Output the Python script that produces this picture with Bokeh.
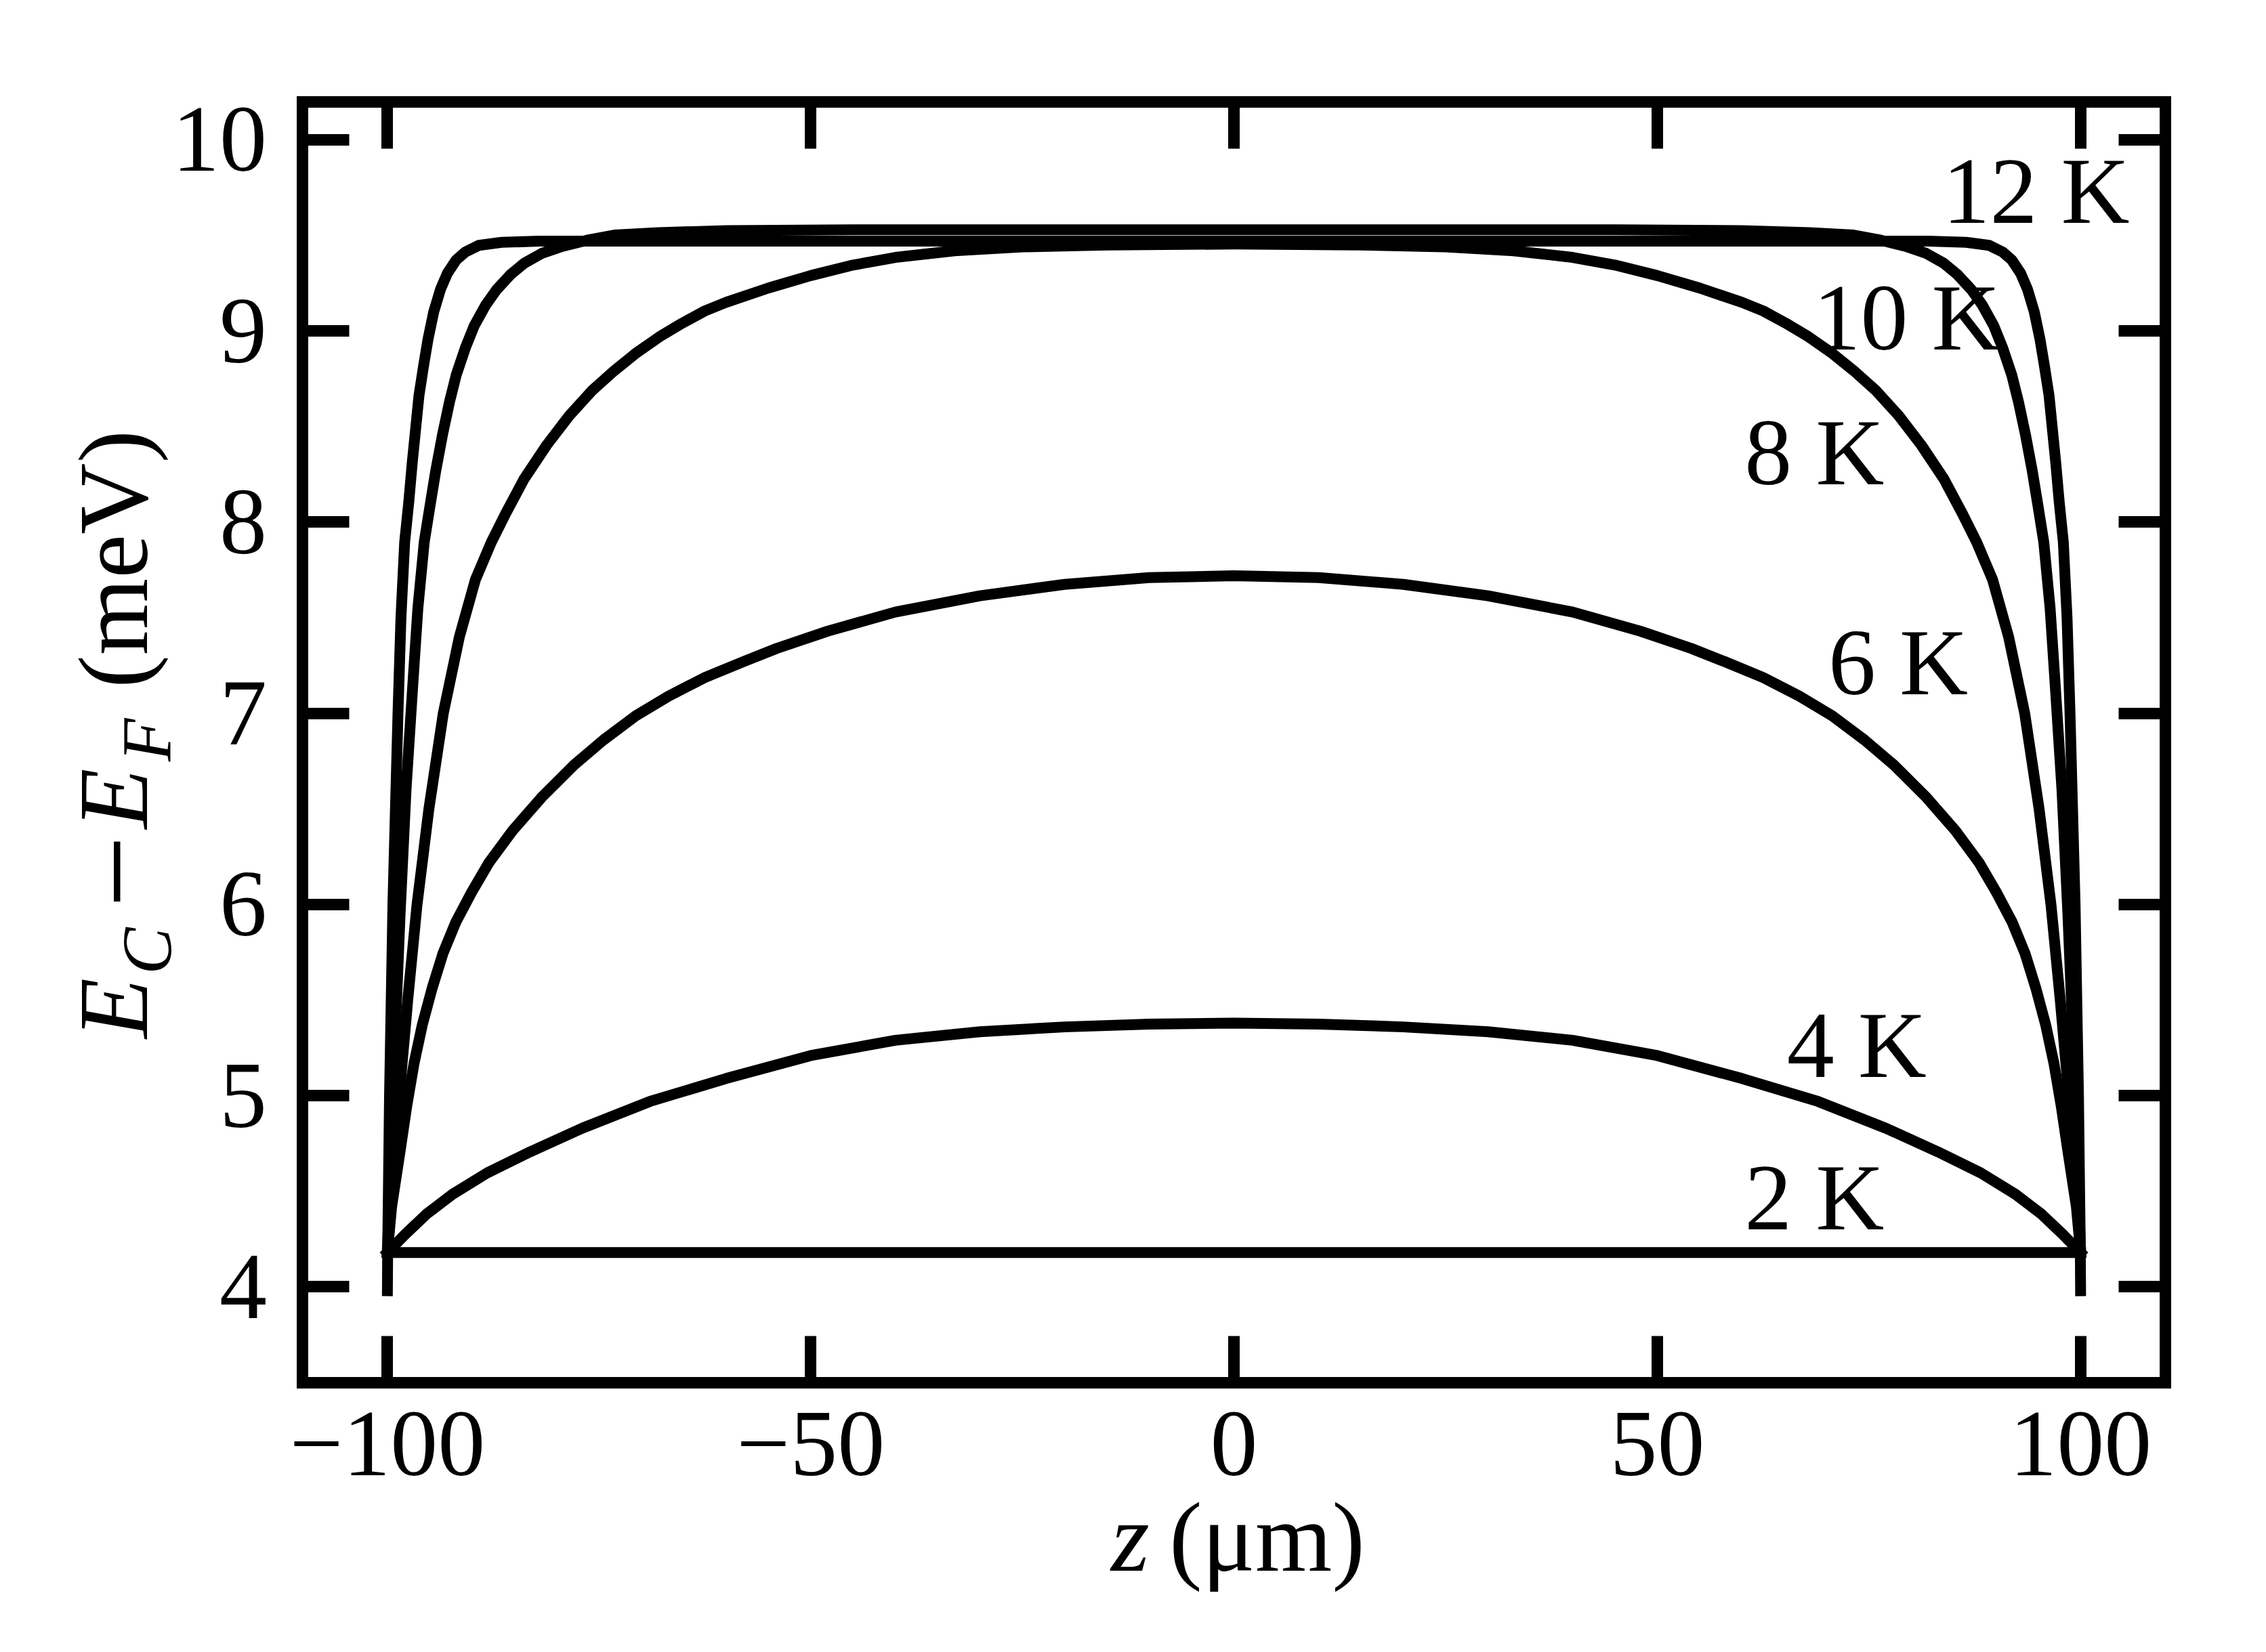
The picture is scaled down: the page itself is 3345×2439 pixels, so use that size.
from bokeh.plotting import figure
from bokeh.models import Range1d, LinearAxis, FixedTicker, Label
from bokeh.core.properties import value
from bokeh.embed import file_html
from bokeh.resources import INLINE

# ---------------- data ----------------
z_2K = [-100.0, 0.0, 100.0]
E_2K = [4.18, 4.18, 4.18]

z_4K = [-100.0, -99.0, -97.9, -95.4, -92.3, -88.22, -83.12, -77.0, -69.0, -60.0, -50.0, -40.0, -30.0, -20.0, -10.0,
        0.0,
        10.0, 20.0, 30.0, 40.0, 50.0, 60.0, 69.0, 77.0, 83.12, 88.22, 92.3, 95.4, 97.9, 99.0, 100.0]
E_4K = [4.18, 4.225, 4.275, 4.38, 4.485, 4.596, 4.707, 4.83, 4.97, 5.09, 5.21, 5.29, 5.335, 5.36, 5.375,
        5.38,
        5.375, 5.36, 5.335, 5.29, 5.21, 5.09, 4.97, 4.83, 4.707, 4.596, 4.485, 4.38, 4.275, 4.225, 4.18]

z_6K = [-100.0, -99.5, -98.5, -97.7, -96.85, -95.88, -94.7, -93.45, -91.9, -90.06, -88.0, -85.21, -81.8, -77.95,
        -74.5, -70.67, -66.8, -62.52, -58.0, -54.0, -48.0, -40.0, -30.0, -20.0, -10.0,
        0.0,
        10.0, 20.0, 30.0, 40.0, 48.0, 54.0, 58.0, 62.52, 66.8, 70.67, 74.5, 77.95, 81.8, 85.21, 88.0, 90.06, 91.9,
        93.45, 94.7, 95.88, 96.85, 97.7, 98.5, 99.5, 100.0]
E_6K = [4.18, 4.42, 4.71, 4.95, 5.17, 5.37, 5.565, 5.743, 5.91, 6.064, 6.22, 6.387, 6.56, 6.73,
        6.86, 6.987, 7.09, 7.187, 7.27, 7.34, 7.43, 7.53, 7.615, 7.675, 7.71,
        7.72,
        7.71, 7.675, 7.615, 7.53, 7.43, 7.34, 7.27, 7.187, 7.09, 6.987, 6.86, 6.73, 6.56, 6.387, 6.22, 6.064, 5.91,
        5.743, 5.565, 5.37, 5.17, 4.95, 4.71, 4.42, 4.18]

z_8K = [-100.0, -99.3, -98.5, -97.6, -96.5, -95.1, -93.4, -91.5, -89.6, -87.73, -85.99, -83.86, -81.19, -78.53,
        -75.86, -73.19, -70.52, -67.86, -65.18, -62.52, -60.0, -55.0, -50.0, -45.0, -40.0, -33.0, -25.0, -15.0,
        0.0,
        15.0, 25.0, 33.0, 40.0, 45.0, 50.0, 55.0, 60.0, 62.52, 65.18, 67.86, 70.52, 73.19, 75.86, 78.53, 81.19,
        83.86, 85.99, 87.73, 89.6, 91.5, 93.4, 95.1, 96.5, 97.6, 98.5, 99.3, 100.0]
E_8K = [4.18, 4.6, 5.05, 5.5, 6.0, 6.5, 7.0, 7.4, 7.7, 7.895, 8.049, 8.226, 8.403, 8.557,
        8.687, 8.793, 8.888, 8.970, 9.041, 9.105, 9.15, 9.225, 9.29, 9.345, 9.385, 9.42, 9.44, 9.45,
        9.455,
        9.45, 9.44, 9.42, 9.385, 9.345, 9.29, 9.225, 9.15, 9.105, 9.041, 8.970, 8.888, 8.793, 8.687, 8.557, 8.403,
        8.226, 8.049, 7.895, 7.7, 7.4, 7.0, 6.5, 6.0, 5.5, 5.05, 4.6, 4.18]

z_10K = [-100.0, -99.6, -99.1, -98.5, -97.8, -97.0, -96.4, -95.65, -94.93, -94.27, -93.47, -92.67, -91.87,
         -90.8, -89.73, -88.39, -87.07, -85.46, -83.86, -81.73, -79.33, -76.12, -73.19, -68.0, -60.0, -45.0, -25.0,
         0.0,
         25.0, 45.0, 60.0, 68.0, 73.19, 76.12, 79.33, 81.73, 83.86, 85.46, 87.07, 88.39, 89.73, 90.8,
         91.87, 92.67, 93.47, 94.27, 94.93, 95.65, 96.4, 97.0, 97.8, 98.5, 99.1, 99.6, 100.0]
E_10K = [4.18, 4.7, 5.3, 5.95, 6.6, 7.15, 7.55, 7.896, 8.096, 8.274, 8.462, 8.628, 8.770,
         8.911, 9.029, 9.136, 9.218, 9.295, 9.354, 9.407, 9.443, 9.478, 9.502, 9.515, 9.525, 9.53, 9.53,
         9.53,
         9.53, 9.53, 9.525, 9.515, 9.502, 9.478, 9.443, 9.407, 9.354, 9.295, 9.218, 9.136, 9.029, 8.911,
         8.770, 8.628, 8.462, 8.274, 8.096, 7.896, 7.55, 7.15, 6.6, 5.95, 5.3, 4.7, 4.18]

z_12K = [-100.0, -99.97, -99.75, -99.35, -98.75, -98.4, -97.96, -97.47, -97.07, -96.67, -96.27, -95.73, -95.2,
         -94.53, -93.73, -92.93, -91.87, -90.8, -89.2, -86.5, -82.0, -70.0, -50.0, -25.0,
         0.0,
         25.0, 50.0, 70.0, 82.0, 86.5, 89.2, 90.8, 91.87, 92.93, 93.73, 94.53, 95.2, 95.73, 96.27, 96.67,
         97.07, 97.47, 97.96, 98.4, 98.75, 99.35, 99.75, 99.97, 100.0]
E_12K = [3.98, 4.18, 5.0, 6.0, 7.0, 7.5, 7.896, 8.108, 8.309, 8.486, 8.663, 8.817, 8.958,
         9.100, 9.218, 9.301, 9.372, 9.413, 9.448, 9.464, 9.470, 9.470, 9.470, 9.470,
         9.470,
         9.470, 9.470, 9.470, 9.470, 9.464, 9.448, 9.413, 9.372, 9.301, 9.218, 9.100, 8.958, 8.817, 8.663, 8.486,
         8.309, 8.108, 7.896, 7.5, 7.0, 6.0, 5.0, 4.18, 3.98]

curve_labels = ["2 K", "4 K", "6 K", "8 K", "10 K", "12 K"]
label_z = [60.3, 65.3, 70.2, 60.3, 68.4, 83.7]          # left edge of each label
label_E = [4.471, 5.268, 7.270, 8.368, 9.070, 9.735]    # vertical centre of each label

x_ticks = [-100, -50, 0, 50, 100]
x_tick_text = {-100: "\u2212100", -50: "\u221250", 0: "0", 50: "50", 100: "100"}
y_ticks = [4, 5, 6, 7, 8, 9, 10]
x_lim = (-110, 110)
y_lim = (3.5, 10.2)

# ---------------- figure ----------------
FONT = "Liberation Serif"
W, H = 3329, 2423
# the frame fills the whole canvas; the axes are pinned at the box edges
p = figure(width=W, height=H, x_range=Range1d(-145.72, 120.66), y_range=Range1d(2.1452, 10.7298),
           output_backend="svg", toolbar_location=None,
           x_axis_location=None, y_axis_location=None, min_border=0)
p.grid.visible = False
p.background_fill_color = "white"
p.border_fill_color = "white"
p.outline_line_color = None

def make_axis(side, ticks, loc, bounds, labels):
    ax = LinearAxis(ticker=FixedTicker(ticks=ticks), fixed_location=loc, bounds=bounds)
    ax.axis_line_color = "black"
    ax.axis_line_width = 17
    ax.axis_line_cap = "square"
    ax.major_tick_in = 69
    ax.major_tick_out = 0
    ax.major_tick_line_width = 17
    ax.major_tick_line_color = "black"
    ax.minor_tick_line_color = None
    ax.major_label_text_font = FONT
    ax.major_label_text_font_size = "140px"
    ax.major_label_text_color = "black" if labels else None
    p.add_layout(ax, side)
    return ax

xb = make_axis("below", x_ticks, y_lim[0], x_lim, True)
xb.major_label_overrides = x_tick_text
xb.major_label_standoff = 45
make_axis("above", x_ticks, y_lim[1], x_lim, False)
yl = make_axis("left", y_ticks, x_lim[0], y_lim, True)
yl.major_label_standoff = 53
make_axis("right", y_ticks, x_lim[1], y_lim, False)

# ---------------- curves ----------------
for zz, ee in [(z_2K, E_2K), (z_4K, E_4K), (z_6K, E_6K), (z_8K, E_8K), (z_10K, E_10K), (z_12K, E_12K)]:
    p.line(zz, ee, line_color="black", line_width=16, line_join="round", line_cap="square")

p.text(x=label_z, y=label_E, text=curve_labels, text_font=value(FONT), text_font_size=value("140px"),
       text_color="black", text_align="left", text_baseline="middle")

# ---------------- axis titles (composed from pieces) ----------------
def lab(x, y, t, size, italic=False, angle=0):
    p.add_layout(Label(x=x, y=y, text=t, text_font=FONT, text_font_size=size,
                       text_font_style="italic" if italic else "normal",
                       text_color="black", text_align="center", text_baseline="middle",
                       angle=angle, angle_units="deg"))

# y title: E_C - E_F (meV), rotated
lab(-132.30, 5.458, "E", "146px", italic=True, angle=90)
lab(-128.44, 5.757, "C", "104px", italic=True, angle=90)
lab(-131.90, 6.172, "\u2212", "190px", angle=90)
lab(-132.30, 6.5545, "E", "146px", italic=True, angle=90)
lab(-128.44, 6.861, "F", "104px", italic=True, angle=90)
lab(-132.30, 7.807, "(meV)", "146px", angle=90)

# x title: z (um)
lab(-12.25, 2.688, "z", "146px", italic=True)
lab(3.91, 2.688, "(\u03bcm)", "146px")

open("out.html", "w").write(file_html(p, INLINE))
